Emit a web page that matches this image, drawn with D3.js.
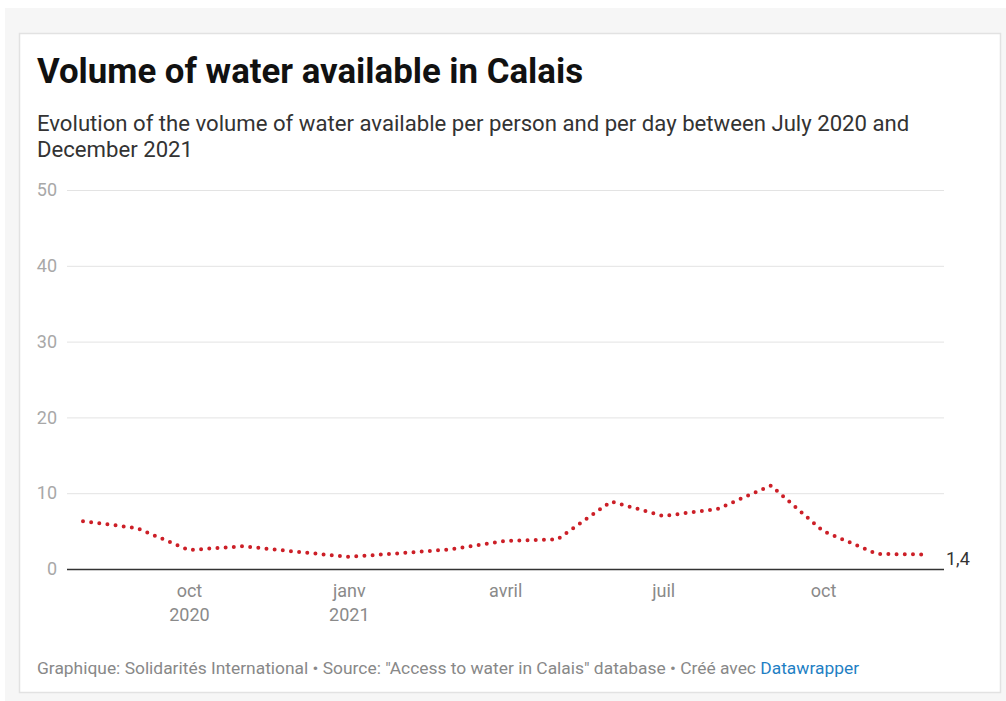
<!DOCTYPE html>
<html lang="fr">
<head>
    <meta charset="UTF-8">
    <title>Volume of water available in Calais</title>
    <script src="https://cdnjs.cloudflare.com/ajax/libs/d3/7.8.5/d3.min.js"></script>
    <style>
        body { margin: 0; background: #fff; font-family: Roboto, "Noto Sans", sans-serif; }
        svg { display: block; }
    </style>
</head>
<body>
    <div id="chart"></div>

    <script>
        // monthly readings, litres per person per day
        const months = ["2020-08-01", "2020-09-01", "2020-10-01", "2020-11-01", "2020-12-01",
                        "2021-01-01", "2021-02-01", "2021-03-01", "2021-04-01", "2021-05-01",
                        "2021-06-01", "2021-07-01", "2021-08-01", "2021-09-01", "2021-10-01",
                        "2021-11-01", "2021-12-01"];
        const volumes = [6.3, 5.4, 2.5, 3.0, 2.3, 1.6, 2.1, 2.6, 3.7, 3.9, 8.9, 7.0, 7.9, 11.0, 5.0, 2.0, 1.9];
        const endLabel = "1,4";

        const yTicks = [0, 10, 20, 30, 40, 50];
        const xTicks = ["2020-10-01", "2021-01-01", "2021-04-01", "2021-07-01", "2021-10-01"];
        const xTickLabels = [["oct", "2020"], ["janv", "2021"], ["avril"], ["juil"], ["oct"]];

        const parse = d3.timeParse("%Y-%m-%d");
        const data = months.map((m, i) => ({ date: parse(m), value: volumes[i] }));

        const width = 1006, height = 701;
        const svg = d3.select("#chart").append("svg")
            .attr("width", width)
            .attr("height", height);

        // grey page + white card
        svg.append("rect").attr("x", 5).attr("y", 8).attr("width", width - 5).attr("height", height - 8)
            .attr("fill", "#f6f6f6");
        svg.append("rect").attr("x", 19.5).attr("y", 33.5).attr("width", 981).attr("height", 659)
            .attr("fill", "#fff").attr("stroke", "#e2e2e2").attr("stroke-width", 1.5);

        svg.append("text")
            .attr("x", 37).attr("y", 83)
            .attr("font-size", "34.8px").attr("font-weight", 700).attr("fill", "#111")
            .text("Volume of water available in Calais");

        const sub = svg.append("text")
            .attr("font-size", "22.15px").attr("fill", "#333");
        sub.append("tspan").attr("x", 37).attr("y", 131)
            .text("Evolution of the volume of water available per person and per day between July 2020 and");
        sub.append("tspan").attr("x", 37).attr("y", 157)
            .text("December 2021");

        const x = d3.scaleTime()
            .domain([parse("2020-08-01"), parse("2021-12-01")])
            .range([83, 929]);

        const y = d3.scaleLinear()
            .domain([0, 50])
            .range([569, 190]);

        // grid
        const yAxis = svg.append("g")
            .call(d3.axisLeft(y).tickValues(yTicks).tickSize(0).tickPadding(0));
        yAxis.select(".domain").remove();
        yAxis.selectAll(".tick line")
            .attr("x1", 67).attr("x2", 944)
            .attr("stroke", d => d === 0 ? "#333" : "#e3e3e3")
            .attr("stroke-width", d => d === 0 ? 1.5 : 1);
        yAxis.selectAll(".tick text")
            .attr("x", 57)
            .attr("font-family", "Roboto, sans-serif")
            .attr("font-size", "18px")
            .attr("fill", "#a8a8a8");

        const xAxis = svg.append("g")
            .attr("transform", "translate(0,569)")
            .call(d3.axisBottom(x).tickValues(xTicks.map(parse)).tickSize(0).tickFormat(""));
        xAxis.select(".domain").remove();
        xAxis.selectAll(".tick").each(function (d, i) {
            const t = d3.select(this).append("text")
                .attr("text-anchor", "middle")
                .attr("font-family", "Roboto, sans-serif")
                .attr("font-size", "18px")
                .attr("fill", "#8a8a8a");
            xTickLabels[i].forEach((s, j) => {
                t.append("tspan").attr("x", 0).attr("y", 28 + j * 24).text(s);
            });
        });

        // dotted line
        const line = d3.line()
            .x(d => x(d.date))
            .y(d => y(d.value));

        svg.append("path")
            .datum(data)
            .attr("d", line)
            .attr("fill", "none")
            .attr("stroke", "#cc1f27")
            .attr("stroke-width", 4)
            .attr("stroke-linecap", "round")
            .attr("stroke-linejoin", "round")
            .attr("stroke-dasharray", "0,8.2");

        const last = data[data.length - 1];
        svg.append("text")
            .attr("x", 946)
            .attr("y", y(last.value) + 10)
            .attr("font-size", "18px")
            .attr("fill", "#333")
            .text(endLabel);

        // footer
        const foot = svg.append("text")
            .attr("x", 37).attr("y", 674)
            .attr("font-size", "17.4px").attr("fill", "#888");
        foot.append("tspan").text("Graphique: Solidarités International • Source: \"Access to water in Calais\" database • Créé avec ");
        foot.append("tspan").attr("fill", "#1f7fc4").text("Datawrapper");
    </script>
</body>
</html>
